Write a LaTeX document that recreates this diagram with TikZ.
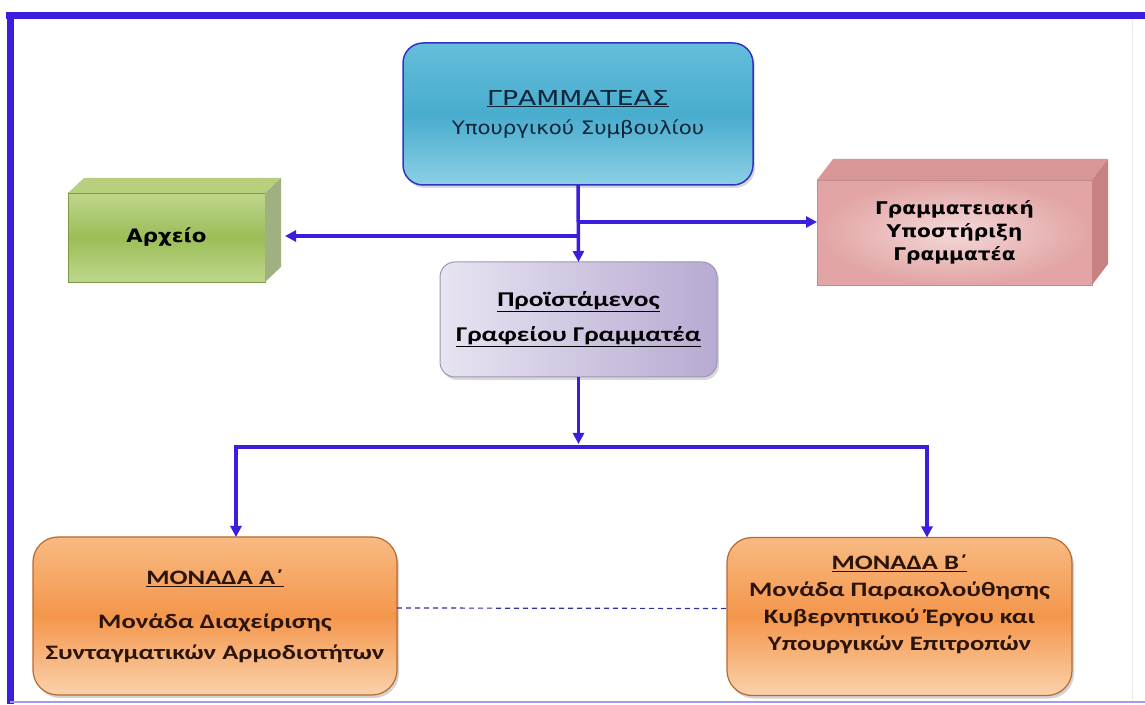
\documentclass[tikz,border=0pt]{standalone}
\usepackage{fontspec}
\setmainfont{DejaVu Sans}
\newfontfamily\topfont[FakeStretch=1.3]{DejaVu Sans}
\newfontfamily\boxfont[FakeStretch=1.15]{DejaVu Sans}
\newfontfamily\unitfont[FakeStretch=1.3]{Carlito}
\usetikzlibrary{arrows.meta,shadows}

\definecolor{framebl}{RGB}{58,30,222}
\definecolor{seclight}{RGB}{140,208,228}
\definecolor{secmid}{RGB}{72,172,206}
\definecolor{sectop}{RGB}{100,190,218}
\definecolor{secline}{RGB}{50,50,200}
\definecolor{sectext}{RGB}{16,36,58}
\definecolor{arxfront}{RGB}{156,190,88}
\definecolor{arxlight}{RGB}{190,214,140}
\definecolor{arxtop}{RGB}{184,208,126}
\definecolor{arxside}{RGB}{160,176,128}
\definecolor{supin}{RGB}{244,216,216}
\definecolor{supout}{RGB}{226,164,164}
\definecolor{suptop}{RGB}{216,150,150}
\definecolor{supside}{RGB}{200,128,128}
\definecolor{headl}{RGB}{232,228,242}
\definecolor{headr}{RGB}{184,170,210}
\definecolor{headline}{RGB}{156,150,178}
\definecolor{unlight}{RGB}{248,186,130}
\definecolor{unmid}{RGB}{244,150,76}
\definecolor{unbot}{RGB}{250,210,172}
\definecolor{unline}{RGB}{184,106,48}
\definecolor{untext}{RGB}{42,20,8}
\definecolor{dashbl}{RGB}{48,48,160}

\begin{document}
\begin{tikzpicture}[x=1pt,y=1pt,
  every node/.style={outer sep=0pt},
  link/.style={framebl, line width=3.5pt, -{Triangle[length=11pt,width=11pt]}},
  wire/.style={framebl, line width=3.5pt, line cap=rect},
  dashlink/.style={dashbl, line width=1.2pt, dash pattern=on 5pt off 4pt},
  secbox/.style={rounded corners=20pt, draw=secline, line width=1.5pt,
    top color=sectop, bottom color=seclight, middle color=secmid,
    minimum width=350pt, minimum height=142pt, align=center, text=sectext,
    font=\fontsize{19}{29}\selectfont,
    drop shadow={opacity=0.3, shadow xshift=2pt, shadow yshift=-3pt}},
  arxbox/.style={draw=arxfront!80!black, line width=0.6pt,
    top color=arxlight, bottom color=arxlight, middle color=arxfront,
    minimum width=197pt, minimum height=89pt,
    font=\boxfont\bfseries\fontsize{18.5}{22}\selectfont},
  supbox/.style={draw=supout!85!black, line width=0.6pt,
    shading=radial, inner color=supin, outer color=supout,
    minimum width=275pt, minimum height=105pt, align=center,
    font=\boxfont\bfseries\fontsize{17.5}{23}\selectfont},
  headbox/.style={rounded corners=15pt, draw=headline, line width=1pt,
    left color=headl, right color=headr,
    minimum width=277pt, minimum height=115pt, align=center,
    font=\unitfont\bfseries\fontsize{21}{35}\selectfont,
    drop shadow={opacity=0.3, shadow xshift=2pt, shadow yshift=-3pt}},
  unitbox/.style={rounded corners=25pt, draw=unline, line width=1.2pt,
    top color=unlight, bottom color=unbot, middle color=unmid,
    minimum height=158pt, align=center, text=untext,
    drop shadow={opacity=0.35, shadow xshift=2pt, shadow yshift=-3pt}}]

  \useasboundingbox (0,0) rectangle (1145,704);
  % frame
  \draw[framebl, line width=7pt] (6,688) -- (1145,688);
  \draw[framebl, line width=7pt] (10,691.5) -- (10,0);
  \draw[framebl!45, line width=2pt] (10,2) -- (1145,2);
  \draw[black!8, line width=1pt] (1132,684) -- (1132,3);

  % boxes
  \node[secbox] (sec) at (578,590)
    {{\topfont\fontsize{20.5}{29}\selectfont\underline{ΓΡΑΜΜΑΤΕΑΣ}}\\
     {\boxfont\fontsize{18.5}{29}\selectfont Υπουργικού Συμβουλίου}};

  \node[arxbox] (arx) at (166.5,466.5) {Αρχείο};
  \fill[arxtop] (arx.north west) -- ++(16,15) -- ([shift={(16,15)}]arx.north east) -- (arx.north east) -- cycle;
  \fill[arxside] (arx.north east) -- ++(16,15) -- ([shift={(16,15)}]arx.south east) -- (arx.south east) -- cycle;

  \node[supbox] (sup) at (954.5,471.5) {Γραμματειακή\\ Υποστήριξη\\ Γραμματέα};
  \fill[suptop] (sup.north west) -- ++(16,21) -- ([shift={(16,21)}]sup.north east) -- (sup.north east) -- cycle;
  \fill[supside] (sup.north east) -- ++(16,21) -- ([shift={(16,21)}]sup.south east) -- (sup.south east) -- cycle;

  \node[headbox] (head) at (578.5,384.5)
    {\underline{Προϊστάμενος}\\ \underline{Γραφείου Γραμματέα}};

  \node[unitbox, minimum width=364pt,
    font=\unitfont\bfseries\fontsize{20.5}{31}\selectfont] (unA) at (215,88)
    {\underline{ΜΟΝΑΔΑ Α΄}\\[13pt] Μονάδα Διαχείρισης\\ Συνταγματικών Αρμοδιοτήτων};
  \node[unitbox, minimum width=345pt,
    font=\unitfont\bfseries\fontsize{20.5}{27}\selectfont] (unB) at (899.5,87.5)
    {\underline{ΜΟΝΑΔΑ Β΄}\\ Μονάδα Παρακολούθησης\\ Κυβερνητικού Έργου και\\ Υπουργικών Επιτροπών\\ \mbox{}};

  % connectors
  \coordinate (jr) at (580,482);
  \coordinate (jl) at (580,468);
  \coordinate (barL) at (236,257);
  \coordinate (barR) at (927,257);

  \draw[link] (sec.south) -- (head.north);
  \draw[link] (jr) -- (jr -| sup.west);
  \draw[link] (jl) -- ([xshift=20pt]arx.east |- jl);
  \draw[link, shorten >=3pt] (head.south) -- (head.south |- barL);
  \draw[wire] (barL) -- (barR);
  \draw[link] (barL) -- (barL |- unA.north);
  \draw[link] (barR) -- (barR |- unB.north);
  \draw[dashlink] ([yshift=8pt]unA.east) -- ([yshift=8pt]unB.west);
\end{tikzpicture}
\end{document}
